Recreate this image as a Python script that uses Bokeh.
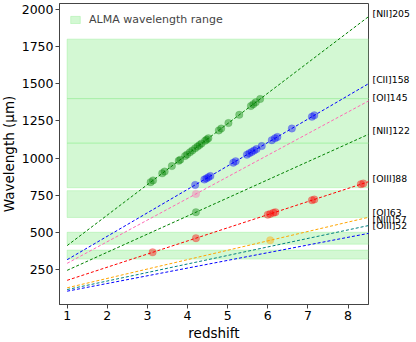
import numpy as np
from bokeh.plotting import figure
from bokeh.models import (ColumnDataSource, Legend, LegendItem, FixedTicker, Range1d, LinearAxis)
from bokeh.embed import file_html
from bokeh.resources import INLINE

# Far-IR fine-structure lines
line_names = ["[NII]205", "[CII]158", "[OI]145", "[NII]122", "[OIII]88", "[OI]63", "[NIII]57", "[OIII]52"]
rest_um = [205.18, 157.74, 145.53, 121.90, 88.36, 63.18, 57.34, 51.81]
line_colors = ["green", "blue", "hotpink", "green", "red", "orange", "teal", "blue"]
z_line = [1.0, 8.6]

# ALMA band wavelength ranges (micron)
alma_low = [320, 420, 600, 800, 1100, 1400]
alma_high = [380, 500, 780, 1100, 1400, 1800]
alma_z = [1.0, 8.6]

# detected sources (redshifts) per line
z_nii205 = [3.08, 3.14, 3.37, 3.43, 3.61, 3.78, 3.82, 3.94, 3.99, 4.06, 4.12, 4.19, 4.25,
            4.30, 4.35, 4.44, 4.48, 4.52, 4.78, 4.84, 5.02, 5.29, 5.58, 5.64, 5.70, 5.81]
z_cii158 = [4.19, 4.42, 4.47, 4.52, 4.57, 5.14, 5.20, 5.48, 5.54, 5.60, 5.66, 5.72,
            5.85, 6.10, 6.18, 6.24, 6.60, 7.10, 7.16]
z_oi145 = [4.21]
z_nii122 = [4.21]
z_oiii88 = [3.13, 4.21, 6.00, 6.06, 6.14, 6.19, 7.10, 7.16, 8.32, 8.38]
z_oi63 = [6.06]
detections = {0: z_nii205, 1: z_cii158, 2: z_oi145, 3: z_nii122, 4: z_oiii88, 5: z_oi63}

x_ticks = [1, 2, 3, 4, 5, 6, 7, 8]
y_ticks = [250, 500, 750, 1000, 1250, 1500, 1750, 2000]

X0, X1 = 0.81, 8.51
Y0, Y1 = 14, 2040
FW, FH = 309, 301

p = figure(output_backend="svg", toolbar_location=None,
           frame_width=FW, frame_height=FH,
           min_border_left=51, min_border_right=44, min_border_top=0, min_border_bottom=30,
           x_range=Range1d(X0, X1), y_range=Range1d(Y0, Y1))
p.margin = (3, 0, 0, -3)
p.background_fill_color = "white"
p.border_fill_color = "white"
p.grid.visible = False
p.outline_line_color = "#444444"
p.outline_line_width = 1

FONT = "DejaVu Sans"
for ax in (p.xaxis[0], p.yaxis[0]):
    ax.axis_line_color = "#444444"
    ax.major_tick_line_color = "#444444"
    ax.major_tick_out = 4
    ax.major_tick_in = 0
    ax.minor_tick_line_color = None
    ax.major_label_text_font = FONT
    ax.major_label_text_font_size = "12.5px"
    ax.major_label_text_color = "black"
    ax.axis_label_text_font = FONT
    ax.axis_label_text_font_size = "13.5px"
    ax.axis_label_text_font_style = "normal"
    ax.axis_label_text_color = "black"
    ax.major_label_standoff = 2

p.xaxis.ticker = FixedTicker(ticks=x_ticks)
p.yaxis.ticker = FixedTicker(ticks=y_ticks)
p.xaxis.axis_label = "redshift"
p.yaxis.axis_label = "Wavelength (\u03bcm)"
p.xaxis.axis_label_standoff = 2
p.yaxis.axis_label_standoff = 2

# ALMA bands
band_src = ColumnDataSource(dict(left=[alma_z[0]] * len(alma_low), right=[alma_z[1]] * len(alma_low),
                                 bottom=alma_low, top=alma_high))
bands = p.quad(left="left", right="right", bottom="bottom", top="top", source=band_src,
               fill_color="lightgreen", fill_alpha=0.4, line_color="lightgreen", line_alpha=0.4, line_width=1)

# lines
for i, (name, rest, col) in enumerate(zip(line_names, rest_um, line_colors)):
    lam = [rest * (1 + z) for z in z_line]
    p.line(z_line, lam, line_color=col, line_width=1, line_dash="3 2")

# detections
for i, zs in detections.items():
    rest = rest_um[i]
    lam = [rest * (1 + z) for z in zs]
    p.scatter(zs, lam, size=7.5, fill_color=line_colors[i], fill_alpha=0.42,
              line_color=line_colors[i], line_alpha=0.15)

# line labels at right: a right-hand axis whose tick labels are the line names
label_dy_px = [3, 4, 3, 4, 3, 4.5, 6, 8]
px_to_data = (Y1 - Y0) / FH
label_y = [rest * (1 + X1) + dy * px_to_data for rest, dy in zip(rest_um, label_dy_px)]
rax = LinearAxis(ticker=FixedTicker(ticks=label_y),
                 major_label_overrides={y: n for y, n in zip(label_y, line_names)})
rax.axis_line_color = None
rax.major_tick_line_color = None
rax.minor_tick_line_color = None
rax.major_tick_out = 0
rax.major_tick_in = 0
rax.major_label_standoff = 4
rax.major_label_text_font = FONT
rax.major_label_text_font_size = "9.3px"
rax.major_label_text_color = "black"
p.add_layout(rax, "right")

legend = Legend(items=[LegendItem(label="ALMA wavelength range", renderers=[bands])],
                location="top_left")
legend.margin = 3
legend.padding = 7
legend.glyph_width = 12
legend.glyph_height = 9
legend.label_height = 9
legend.label_standoff = 8
legend.label_text_font = FONT
legend.label_text_font_size = "11px"
legend.border_line_alpha = 0
legend.background_fill_alpha = 1
p.add_layout(legend)

open("out.html", "w").write(file_html(p, INLINE))
